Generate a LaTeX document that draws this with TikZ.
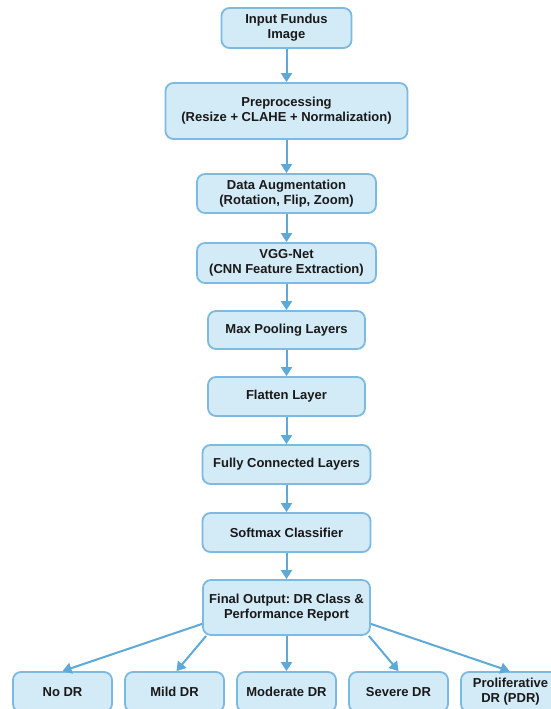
\documentclass[tikz,border=0pt]{standalone}
\usepackage{fontspec}
\setmainfont{Liberation Sans}
\usetikzlibrary{arrows.meta}
\definecolor{kasten}{HTML}{D3EAF7}
\definecolor{rand}{HTML}{7DBADF}
\definecolor{pfeil}{HTML}{5FA9D6}
\frenchspacing
\begin{document}
\begin{tikzpicture}[x=1pt,y=-1pt,
  box/.style={draw=rand,fill=kasten,line width=1.8pt,rounded corners=8pt,align=center,inner sep=0pt,
    font=\bfseries\fontsize{13}{15}\selectfont,text=black!90},
  pf/.style={draw=pfeil,line width=2pt,-{Triangle[width=11pt,length=9pt,fill=pfeil]}}]
\clip (0,0) rectangle (551,709);
\fill[white] (0,0) rectangle (551,709);
% Kaesten
\node[box,minimum width=130pt,minimum height=40pt] (input) at (286.5,28) {Input Fundus\\Image};
\node[box,minimum width=242pt,minimum height=56pt] (pre) at (286.5,111) {Preprocessing\\(Resize + CLAHE + Normalization)};
\node[box,minimum width=179pt,minimum height=39pt] (aug) at (286.5,193.5) {Data Augmentation\\(Rotation, Flip, Zoom)};
\node[box,minimum width=179pt,minimum height=40pt] (vgg) at (286.5,263) {VGG-Net\\(CNN Feature Extraction)};
\node[box,minimum width=157pt,minimum height=38pt] (pool) at (286.5,330) {Max Pooling Layers};
\node[box,minimum width=157pt,minimum height=39pt] (flat) at (286.5,396.5) {Flatten Layer};
\node[box,minimum width=168pt,minimum height=39pt] (fc) at (286.5,464.5) {Fully Connected Layers};
\node[box,minimum width=168pt,minimum height=39pt] (soft) at (286.5,532.5) {Softmax Classifier};
\node[box,minimum width=167pt,minimum height=55pt] (out) at (286.5,607.5) {Final Output: DR Class \&\\Performance Report};
% Klassen
\node[box,minimum width=99pt,minimum height=40pt] (nodr) at (62.5,692) {No DR};
\node[box,minimum width=99pt,minimum height=40pt] (mild) at (174.5,692) {Mild DR};
\node[box,minimum width=99pt,minimum height=40pt] (mod) at (286.5,692) {Moderate DR};
\node[box,minimum width=99pt,minimum height=40pt] (sev) at (398.5,692) {Severe DR};
\node[box,minimum width=99pt,minimum height=40pt] (pdr) at (510.5,692) {Proliferative\\DR (PDR)};
% Pfeile
\draw[pf] (input.south) -- (pre.north);
\draw[pf] (pre.south) -- (aug.north);
\draw[pf] (aug.south) -- (vgg.north);
\draw[pf] (vgg.south) -- (pool.north);
\draw[pf] (pool.south) -- (flat.north);
\draw[pf] (flat.south) -- (fc.north);
\draw[pf] (fc.south) -- (soft.north);
\draw[pf] (soft.south) -- (out.north);
\draw[pf] ([yshift=12pt]out.south west) -- (nodr.north);
\draw[pf] ([xshift=4pt]out.south west) -- ([xshift=2pt]mild.north);
\draw[pf] (out.south) -- (mod.north);
\draw[pf] ([xshift=-2pt]out.south east) -- (sev.north);
\draw[pf] ([yshift=12pt]out.south east) -- ([xshift=-1pt]pdr.north);
\end{tikzpicture}
\end{document}
